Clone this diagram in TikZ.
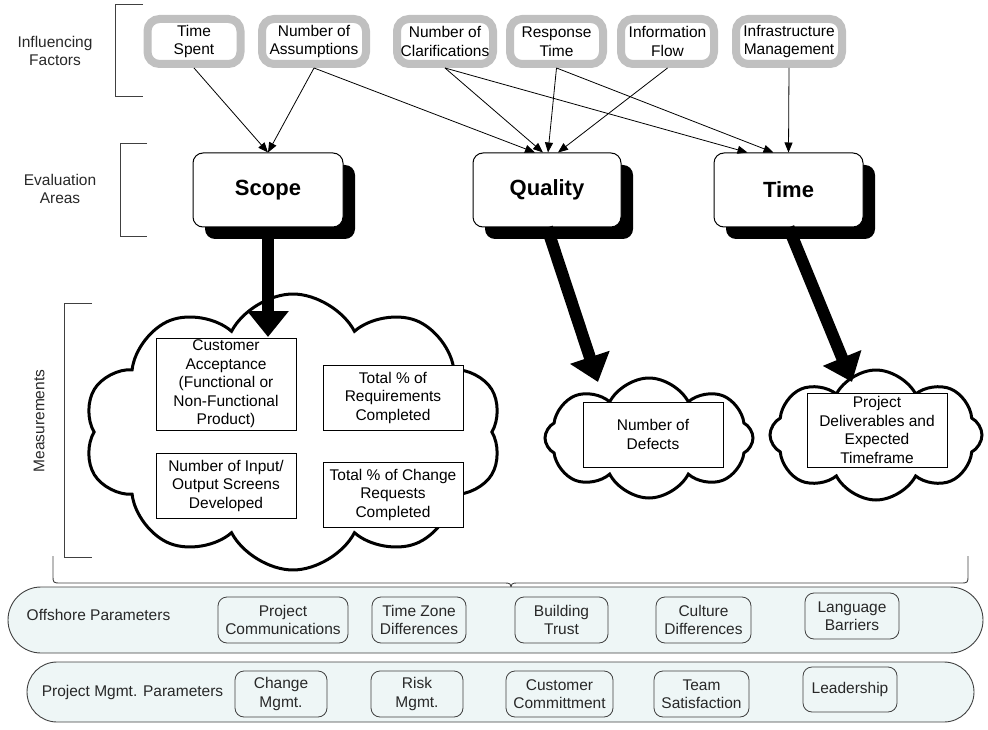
\documentclass[tikz,border=0pt]{standalone}
\usepackage{fontspec}
\setmainfont{Liberation Sans}
\usetikzlibrary{arrows.meta,shapes.symbols,shapes.misc,shadows}
\definecolor{factorgray}{RGB}{192,192,192}
\definecolor{barfill}{RGB}{238,246,246}
\definecolor{linegray}{RGB}{64,64,64}
\definecolor{textgray}{RGB}{40,40,40}
\begin{document}
\begin{tikzpicture}[x=1pt,y=-1pt,
  every node/.style={font=\fontsize{15.5}{18.5}\selectfont, align=center, inner sep=0pt},
  factor/.style={draw=factorgray, line width=8pt, rounded corners=12pt, fill=white, minimum height=45pt},
  area/.style={draw=black, line width=1pt, rounded corners=10pt, fill=white, minimum width=150pt, minimum height=74pt,
    font=\fontsize{22}{26}\selectfont\bfseries,
    general shadow={fill=black, shadow xshift=12pt, shadow yshift=-12pt}},
  meas/.style={draw=black, line width=0.8pt, fill=white, minimum width=140pt},
  cloudshape/.style={cloud, draw=black, line width=3pt, fill=white, cloud puff arc=125, cloud ignores aspect},
  thinarrow/.style={line width=0.8pt, -{Triangle[length=10pt,width=8pt]}},
  bigarrow/.style={line width=12pt, -{Triangle[length=26pt,width=40pt]}},
  bracket/.style={draw=linegray, line width=1pt},
  sidelabel/.style={text=textgray},
  bar/.style={rounded rectangle, draw=linegray, line width=0.9pt, fill=barfill},
  param/.style={draw=linegray, rounded corners=9pt, line width=0.8pt, text=textgray, minimum height=46pt}
]
\useasboundingbox (0,0) rectangle (988,730);

% brackets and side labels
\draw[bracket] (143,5) -- (115,5) -- (115,97) -- (143,97);
\draw[bracket] (147,144) -- (120,144) -- (120,237) -- (147,237);
\draw[bracket] (92,303) -- (64,303) -- (64,557) -- (92,557);
\node[sidelabel] (lblif) at (55,51) {Influencing\\Factors};
\node[sidelabel] (lblea) at (60,189) {Evaluation\\Areas};
\node[sidelabel, rotate=90] (lblme) at (39,421) {Measurements};

% influencing factors
\node[factor, minimum width=93pt] (ts) at (194,41.5) {Time\\Spent};
\node[factor, minimum width=104pt] (na) at (314,41.5) {Number of\\Assumptions};
\node[factor, minimum width=96pt] (nc) at (445,41.5) {Number of\\Clarifications};
\node[factor, minimum width=93pt] (rt) at (556.5,41.5) {Response\\Time};
\node[factor, minimum width=93pt] (inf) at (667.5,41.5) {Information\\Flow};
\node[factor, minimum width=106pt] (im) at (789,41.5) {Infrastructure\\Management};

% evaluation areas
\node[area] (scope) at (268,190) {Scope};
\node[area, minimum width=148pt] (quality) at (547,190) {Quality};
\node[area, minimum width=149pt] (time) at (788.5,190) {Time};

% thin arrows
\draw[thinarrow] (ts.south) -- (scope.north);
\draw[thinarrow] (na.south) -- (scope.north);
\draw[thinarrow] (na.south) -- ([xshift=-12pt]quality.north);
\draw[thinarrow] (nc.south) -- ([xshift=-4pt]quality.north);
\draw[thinarrow] (rt.south) -- ([xshift=1pt]quality.north);
\draw[thinarrow] (inf.south) -- ([xshift=11pt]quality.north);
\draw[thinarrow] (nc.south) -- ([xshift=-41pt]time.north);
\draw[thinarrow] (rt.south) -- ([xshift=-15pt]time.north);
\draw[thinarrow] (im.south) -- (time.north);

% clouds
\node[cloudshape, cloud puffs=10, minimum width=418pt, minimum height=276pt] (bigcloud) at (293,432) {};
\node[cloudshape, cloud puffs=8, minimum width=208pt, minimum height=120pt] (qcloud) at (649,438) {};
\node[cloudshape, cloud puffs=8, minimum width=212pt, minimum height=130pt] (tcloud) at (876,435) {};

% measurement boxes
\node[meas, minimum height=92pt] (ca) at (226,384) {Customer\\Acceptance\\(Functional or\\Non-Functional\\Product)};
\node[meas, minimum height=65pt] (req) at (393,397.5) {Total \% of\\Requirements\\Completed};
\node[meas, minimum height=65pt] (io) at (226,485.5) {Number of Input/\\Output Screens\\Developed};
\node[meas, minimum height=65pt] (cr) at (393,494.5) {Total \% of Change\\Requests\\Completed};
\node[meas, minimum height=65pt] (def) at (653,434.5) {Number of\\Defects};
\node[meas, minimum height=74pt] (pd) at (877,430) {Project\\Deliverables and\\Expected\\Timeframe};

% thick arrows
\coordinate (tipS) at (268,337);
\coordinate (tipQ) at (598,382);
\coordinate (tipT) at (852,382);
\draw[bigarrow] (scope.south) -- (tipS);
\draw[bigarrow] (quality.south) -- (tipQ);
\draw[bigarrow] (time.south) -- (tipT);

% brace
\draw[draw=linegray, line width=0.9pt] (53,556) -- (53,575) .. controls (53,583) .. (61,583) -- (503,583)
  .. controls (511,583) .. (511,591) .. controls (511,583) .. (519,583) -- (960,583)
  .. controls (968,583) .. (968,575) -- (968,556);

% bars
\node[bar, minimum width=975pt, minimum height=66pt] (offbar) at (495.5,620) {};
\node[bar, minimum width=947pt, minimum height=60pt] (pmbar) at (500.5,692) {};
\node[text=textgray] (offlbl) at (98.5,615) {Offshore Parameters};
\node[text=textgray] (pmlbl) at (132.5,692) {Project Mgmt. Parameters};

\node[param, minimum width=130pt] (pc) at (283,620) {Project\\Communications};
\node[param, minimum width=94pt] (tz) at (419,620) {Time Zone\\Differences};
\node[param, minimum width=93pt] (bt) at (561.5,620) {Building\\Trust};
\node[param, minimum width=95pt] (cd) at (703.5,620) {Culture\\Differences};
\node[param, minimum width=94pt] (lb) at (852,616) {Language\\Barriers};

\node[param, minimum width=92pt] (cm) at (281,694) {Change\\Mgmt.};
\node[param, minimum width=92pt] (rm) at (417,694) {Risk\\Mgmt.};
\node[param, minimum width=107pt] (cc) at (559.5,694) {Customer\\Committment};
\node[param, minimum width=95pt] (tsat) at (701.5,694) {Team\\Satisfaction};
\node[param, minimum width=94pt, minimum height=45pt] (ld) at (850,689.5) {Leadership};
\end{tikzpicture}
\end{document}
